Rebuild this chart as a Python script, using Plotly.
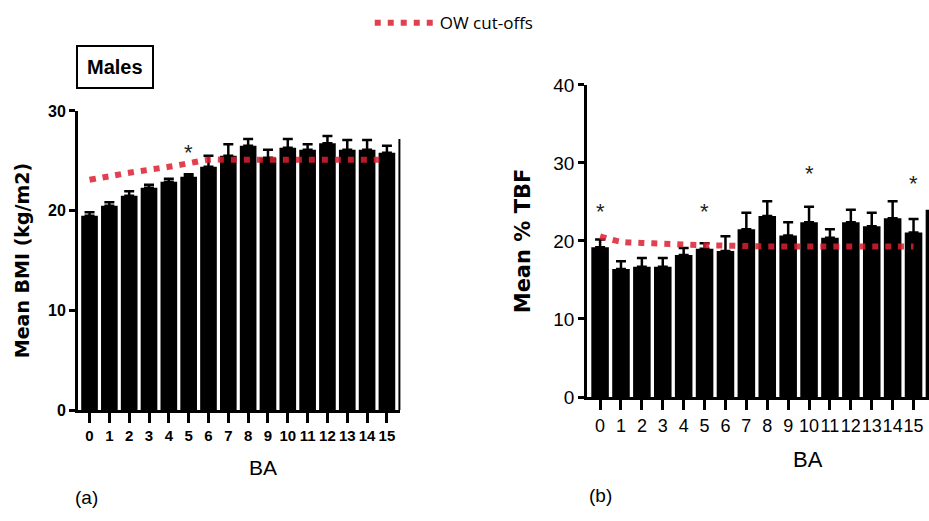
import plotly.graph_objects as go

# Bars 0..15 labelled; bar 16 is only a sliver at the cropped right edge
BA = list(range(17))
tick_vals = list(range(16))
tick_labels = [str(i) for i in tick_vals]

# Panel (a) Males: Mean BMI
bmi_mean = [19.5, 20.5, 21.5, 22.3, 22.9, 23.4, 24.4, 25.5, 26.5, 25.3, 26.3, 26.1, 26.75, 26.1, 26.1, 25.8, 27.2]
bmi_err = [0.35, 0.35, 0.45, 0.3, 0.3, 0.25, 1.1, 1.15, 0.7, 0.8, 0.9, 0.55, 0.75, 1.0, 1.0, 0.7, 0.0]
bmi_cutoff = [23.1, 23.45, 23.8, 24.1, 24.4, 24.75, 25.1, 25.1, 25.1, 25.1, 25.1, 25.1, 25.1, 25.1, 25.1, 25.1]
bmi_star_ba = [5]
bmi_star_y = [25.8]

# Panel (b): Mean % TBF
tbf_mean = [19.2, 16.4, 16.7, 16.7, 18.2, 19.0, 18.7, 21.5, 23.2, 20.7, 22.4, 20.4, 22.4, 21.9, 22.9, 21.1, 24.0]
tbf_err = [1.0, 1.0, 1.1, 1.1, 0.9, 0.7, 1.9, 2.1, 1.9, 1.7, 2.0, 1.1, 1.6, 1.7, 2.2, 1.7, 0.0]
tbf_cutoff = [20.6, 19.9, 19.75, 19.65, 19.55, 19.45, 19.4, 19.35, 19.3, 19.3, 19.3, 19.3, 19.3, 19.3, 19.3, 19.3]
tbf_star_ba = [0, 5, 10, 15]
tbf_star_y = [23.8, 23.8, 28.7, 27.4]

CUT_COLOR = "rgba(220,30,50,0.85)"
TICKFONT = "Liberation Sans, Arial, sans-serif"
TITLEFONT = "DejaVu Sans, Liberation Sans, Arial, sans-serif"

fig = go.Figure()

def add_panel(xa, ya, mean, err, cutoff, show_leg):
    fig.add_trace(go.Bar(
        x=BA, y=mean, xaxis=xa, yaxis=ya, width=0.84,
        marker=dict(color="black", line=dict(width=0)),
        error_y=dict(type="data", array=err, arrayminus=[0] * len(err), symmetric=False,
                     thickness=2.5, width=5, color="black"),
        showlegend=False, hoverinfo="skip"))
    fig.add_trace(go.Scatter(
        x=BA[:len(cutoff)], y=cutoff, xaxis=xa, yaxis=ya, mode="lines",
        line=dict(color=CUT_COLOR, width=6, dash="6px,7px", shape="spline"),
        name="OW cut-offs", showlegend=show_leg, hoverinfo="skip"))

add_panel("x", "y", bmi_mean, bmi_err, bmi_cutoff, True)
add_panel("x2", "y2", tbf_mean, tbf_err, tbf_cutoff, False)

for xs, ys, xa, ya in [(bmi_star_ba, bmi_star_y, "x", "y"), (tbf_star_ba, tbf_star_y, "x2", "y2")]:
    for bx, by in zip(xs, ys):
        fig.add_annotation(x=bx, y=by, xref=xa, yref=ya, text="*", showarrow=False,
                           font=dict(size=22, color="#222", family="Liberation Sans, Arial"))

axis_common = dict(showline=True, linecolor="black", linewidth=3, ticks="outside",
                   tickcolor="black", showgrid=False, zeroline=False, automargin=False)

fig.update_layout(
    width=929, height=521,
    margin=dict(l=0, r=0, t=0, b=0, autoexpand=False),
    paper_bgcolor="white", plot_bgcolor="white",
    barmode="overlay",
    font=dict(family=TICKFONT, color="black"),
    xaxis=dict(domain=[0.084, 0.431], anchor="y", range=[-0.58, 15.68],
               tickmode="array", tickvals=tick_vals,
               ticktext=[f"<b>{t}</b>" for t in tick_labels], tickangle=0,
               ticklen=10, tickwidth=2.5,
               tickfont=dict(size=15, family=TICKFONT),
               **axis_common),
    yaxis=dict(domain=[0.213, 0.787], anchor="x", range=[0, 30],
               tickvals=[0, 10, 20, 30], ticktext=["<b>0</b>", "<b>10</b>", "<b>20</b>", "<b>30</b>"],
               ticklen=6, tickwidth=2.5,
               tickfont=dict(size=16, family=TICKFONT),
               title=dict(text="<b>Mean BMI (kg/m2)</b>", font=dict(size=19, family=TITLEFONT), standoff=14),
               **axis_common),
    xaxis2=dict(domain=[0.632, 1.0], anchor="y2", range=[-0.62, 15.74],
                tickmode="array", tickvals=tick_vals, ticktext=tick_labels, tickangle=0,
                ticklen=10, tickwidth=2.5,
                tickfont=dict(size=18, family=TICKFONT),
                **axis_common),
    yaxis2=dict(domain=[0.238, 0.837], anchor="x2", range=[0, 40],
                tickvals=[0, 10, 20, 30, 40], ticklen=6, tickwidth=2.5,
                tickfont=dict(size=19, family=TICKFONT),
                title=dict(text="<b>Mean % TBF</b>", font=dict(size=21, family=TITLEFONT), standoff=17),
                **axis_common),
    legend=dict(x=0.398, y=0.99, xanchor="left", yanchor="top", itemwidth=60,
                font=dict(size=17, family="Open Sans, Liberation Sans"),
                bgcolor="rgba(0,0,0,0)"),
    showlegend=True,
)

def paper_text(text, px, py, size, bold=False, **kw):
    fig.add_annotation(x=px / 929, y=1 - py / 521, xref="paper", yref="paper",
                       xanchor="center", yanchor="middle",
                       text=f"<b>{text}</b>" if bold else text, showarrow=False,
                       font=dict(size=size, family="Liberation Sans, Arial"), **kw)

paper_text("Males", 115, 67, 20, bold=True, bordercolor="black", borderwidth=2,
           borderpad=9, bgcolor="white")
paper_text("BA", 263, 467, 21)
paper_text("BA", 808, 459, 22)
paper_text("(a)", 86, 497, 19)
paper_text("(b)", 600, 495, 19)

fig.write_html("out.html", config={"displayModeBar": False},
               post_script="document.body.style.margin='0';")
